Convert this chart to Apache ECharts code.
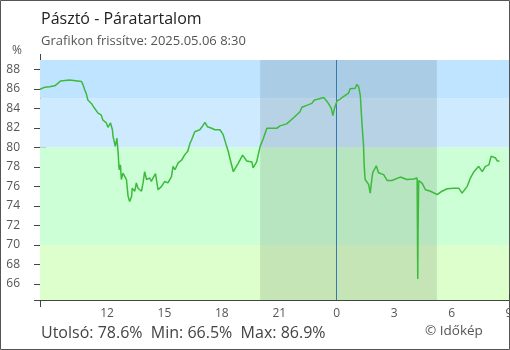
<!DOCTYPE html>
<html><head><meta charset="utf-8">
<script src="https://cdn.jsdelivr.net/npm/echarts@6/dist/echarts.min.js"></script>
<style>html,body{margin:0;padding:0;background:#fff}#c{width:510px;height:350px}</style>
</head><body><div id="c"></div>
<script>
// Time stamps (MM-DD HH:MM) and relative humidity (%)
const times = [
"05-05 08:30","05-05 08:44","05-05 09:00","05-05 09:16","05-05 09:26","05-05 09:34","05-05 10:03","05-05 10:40","05-05 10:45","05-05 10:50",
"05-05 10:55","05-05 11:00","05-05 11:11","05-05 11:21","05-05 11:32","05-05 11:42","05-05 11:47","05-05 11:58","05-05 12:03","05-05 12:11",
"05-05 12:17","05-05 12:19","05-05 12:26","05-05 12:31","05-05 12:35","05-05 12:38","05-05 12:42","05-05 12:45","05-05 12:50","05-05 12:56",
"05-05 13:01","05-05 13:06","05-05 13:11","05-05 13:17","05-05 13:19","05-05 13:27","05-05 13:32","05-05 13:37","05-05 13:43","05-05 13:48",
"05-05 13:53","05-05 13:58","05-05 14:04","05-05 14:14","05-05 14:19","05-05 14:24","05-05 14:32","05-05 14:35","05-05 14:40","05-05 14:46",
"05-05 14:51","05-05 15:01","05-05 15:11","05-05 15:17","05-05 15:22","05-05 15:27","05-05 15:33","05-05 15:43","05-05 15:54","05-05 16:04",
"05-05 16:13","05-05 16:20","05-05 16:25","05-05 16:35","05-05 16:51","05-05 16:58","05-05 17:07","05-05 17:15","05-05 17:28","05-05 17:38",
"05-05 17:54","05-05 18:04","05-05 18:15","05-05 18:20","05-05 18:25","05-05 18:36","05-05 18:41","05-05 18:52","05-05 19:05","05-05 19:18",
"05-05 19:34","05-05 19:38","05-05 19:49","05-05 20:00","05-05 20:10","05-05 20:21","05-05 20:52","05-05 21:02","05-05 21:23","05-05 21:44",
"05-05 21:50","05-05 22:05","05-05 22:11","05-05 22:26","05-05 22:42","05-05 22:50","05-05 23:03","05-05 23:19","05-05 23:26","05-05 23:34",
"05-05 23:43","05-05 23:48","05-05 23:53","05-06 00:01","05-06 00:11","05-06 00:21","05-06 00:37","05-06 00:42","05-06 00:58","05-06 01:03",
"05-06 01:09","05-06 01:14","05-06 01:19","05-06 01:24","05-06 01:26","05-06 01:29","05-06 01:40","05-06 01:45","05-06 01:50","05-06 01:53",
"05-06 02:04","05-06 02:11","05-06 02:27","05-06 02:38","05-06 02:53","05-06 03:19","05-06 03:40","05-06 04:01","05-06 04:12","05-06 04:14",
"05-06 04:15","05-06 04:17","05-06 04:28","05-06 04:38","05-06 04:54","05-06 05:15","05-06 05:30","05-06 05:46","05-06 06:07","05-06 06:23",
"05-06 06:33","05-06 06:49","05-06 06:59","05-06 07:10","05-06 07:25","05-06 07:36","05-06 07:46","05-06 07:57","05-06 08:04","05-06 08:18",
"05-06 08:23","05-06 08:30"
];
const humidity = [
85.95,86.15,86.2,86.3,86.55,86.8,86.9,86.75,86.4,85.9,
85.5,84.85,84.5,84.0,83.5,83.3,82.8,82.5,82.05,82.5,
81.8,81.1,80.1,80.95,79.4,77.7,78.2,76.7,77.35,77.4,
76.7,75.0,74.45,74.95,75.8,75.5,76.35,75.8,76.0,75.5,
76.35,77.5,76.7,76.85,76.5,76.85,77.3,76.7,75.65,75.5,
76.0,76.5,76.35,76.5,77.0,78.05,77.7,78.4,78.7,79.25,
79.6,80.4,80.75,81.6,81.8,82.1,82.55,82.1,81.95,81.8,
81.8,81.3,80.1,79.6,78.9,77.5,77.5,78.4,79.2,78.6,
78.5,77.9,78.5,80.1,80.9,81.95,81.95,82.2,82.4,83.0,
83.05,83.65,84.1,84.3,84.5,84.85,84.95,85.1,84.85,84.5,
84.0,83.25,84.0,84.75,84.95,85.2,85.55,86.0,86.05,86.45,
86.2,85.3,82.5,80.25,78.2,76.7,76.2,75.3,76.7,77.4,
78.1,77.4,77.2,76.6,76.6,76.95,76.7,76.75,76.85,66.5,
71.6,76.6,76.3,75.65,75.5,75.15,75.5,75.75,75.8,75.8,
75.3,76.0,76.85,77.5,78.05,77.5,78.05,78.2,79.1,78.9,
78.6,78.6
];
const yTickLabels = [66,68,70,72,74,76,78,80,82,84,86,88];
const xTickTimes = ["05-05 12:00","05-05 15:00","05-05 18:00","05-05 21:00","05-06 00:00","05-06 03:00","05-06 06:00","05-06 09:00"];
const xRange = ["05-05 08:30","05-06 09:00"];
const yRange = [64.35, 88.95];
const bandEdges = [64.35, 70, 80, 85, 88.95];
const nightRange = ["05-05 20:00","05-06 05:14"];
const midnight = "05-06 00:00";
const titleText = "Pásztó - Páratartalom";
const subtitleText = "Grafikon frissítve: 2025.05.06 8:30";
const unitText = "%";
const statsText = "Utolsó: 78.6%  Min: 66.5%  Max: 86.9%";
const creditText = "© Időkép";

function toH(s){
  const [d,t] = s.split(" ");
  const day = parseInt(d.split("-")[1],10);
  const [h,m] = t.split(":").map(Number);
  return (day-5)*24 + h + m/60;
}
const FONT = "Open Sans";
const bandColors = ["#ddffcc","#ccffd5","#cdeaff","#bfe4ff"];
const chart = echarts.init(document.getElementById("c"), null, {renderer:"canvas"});
const yTicksAll = [yRange[0]].concat(yTickLabels);
chart.setOption({
  animation:false,
  backgroundColor:"#fff",
  grid:{left:40, right:1, top:60, bottom:50, containLabel:false, outerBoundsMode:"none"},
  xAxis:{
    type:"value", min:toH(xRange[0]), max:toH(xRange[1]),
    axisLine:{lineStyle:{color:"#444",width:1}},
    axisTick:{inside:true,length:6,lineStyle:{color:"#444"},customValues:xTickTimes.map(toH)},
    axisLabel:{customValues:xTickTimes.map(toH),formatter:v=>String(Math.round(v)%24),color:"#555",fontFamily:FONT,fontSize:12,margin:8},
    splitLine:{show:false}
  },
  yAxis:[{
    type:"value", min:yRange[0], max:yRange[1],
    axisLine:{show:true,lineStyle:{color:"#444"}},
    axisTick:{show:true,length:6,lineStyle:{color:"#444"},customValues:yTicksAll},
    axisLabel:{customValues:yTickLabels,color:"#555",fontFamily:FONT,fontSize:12,margin:20},
    splitLine:{show:false}
  },{
    type:"value", min:yRange[0], max:yRange[1], position:"left",
    axisLine:{show:false},
    axisTick:{show:true,inside:true,length:6,lineStyle:{color:"#444"},customValues:yTickLabels},
    axisLabel:{show:false}, splitLine:{show:false}
  }],
  series:[
    {type:"line", data:[], silent:true, z:1,
     markArea:{silent:true, data: bandColors.map((c,i)=>[{yAxis:bandEdges[i],itemStyle:{color:c}},{yAxis:bandEdges[i+1]}])}},
    {type:"line", data:[], silent:true, z:2,
     markArea:{silent:true, data:[[{xAxis:toH(nightRange[0]),itemStyle:{color:"rgba(0,0,0,0.1)"}},{xAxis:toH(nightRange[1])}]]},
     markLine:{silent:true, symbol:"none", label:{show:false}, lineStyle:{color:"#3579b0",width:1,type:"solid"}, data:[{xAxis:toH(midnight)}]}},
    {type:"line", z:5, showSymbol:false, data: times.map((t,i)=>[toH(t),humidity[i]]),
     lineStyle:{color:"#3cba3c",width:1.5}, itemStyle:{color:"#3cba3c"}}
  ],
  graphic:[
    {type:"rect", shape:{x:0.5,y:0.5,width:509,height:349}, style:{fill:null,stroke:"#555",lineWidth:1}, silent:true},
    {type:"line", shape:{x1:40.5,y1:54,x2:40.5,y2:60}, style:{stroke:"#444",lineWidth:1}},
    {type:"line", shape:{x1:40.5,y1:300,x2:40.5,y2:307}, style:{stroke:"#444",lineWidth:1}},
    {type:"text", x:41, y:19, style:{text:titleText, font:"16px 'Open Sans'", fill:"#222", verticalAlign:"middle"}},
    {type:"text", x:41, y:41, style:{text:subtitleText, font:"13px 'Open Sans'", fill:"#555", verticalAlign:"middle"}},
    {type:"text", x:12, y:51, style:{text:unitText, font:"12px 'Open Sans'", fill:"#555", verticalAlign:"middle"}},
    {type:"text", x:41, y:333, style:{text:statsText, font:"16px 'Open Sans'", fill:"#444", verticalAlign:"middle"}},
    {type:"text", x:425, y:331, style:{text:creditText, font:"13.5px 'Open Sans'", fill:"#555", verticalAlign:"middle"}}
  ]
});
</script></body></html>
